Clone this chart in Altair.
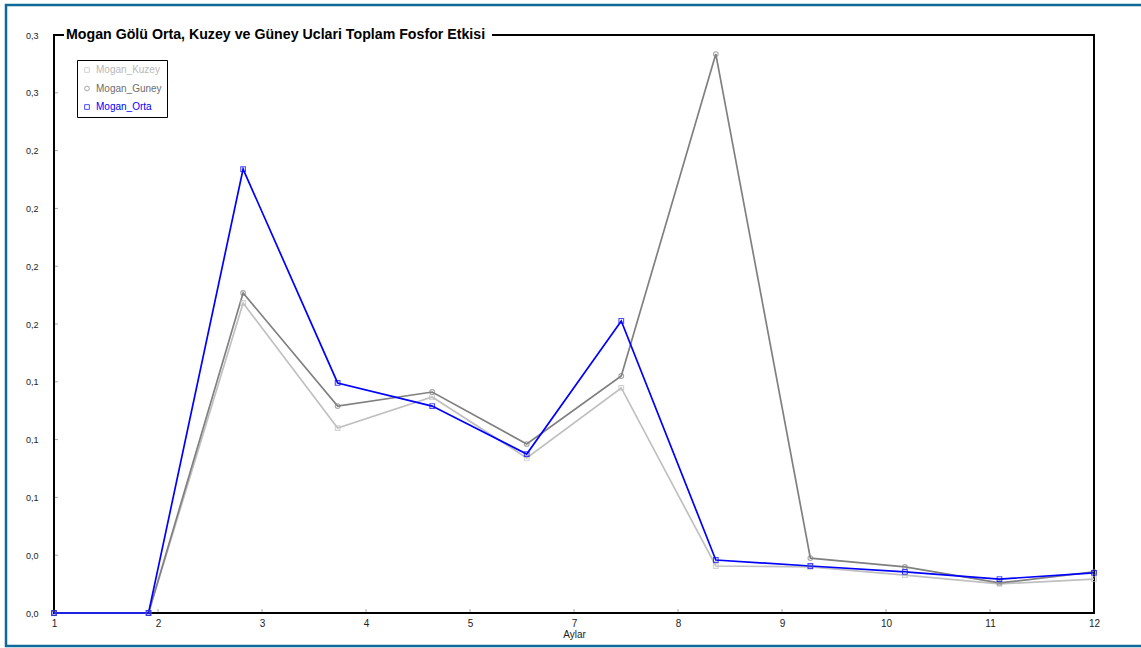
import altair as alt
import pandas as pd

# ---------------- data ----------------
MONTHS = [1, 2, 3, 4, 5, 6, 7, 8, 9, 10, 11, 12]
KUZEY = [0.0, 0.0, 0.1609, 0.0960, 0.1121, 0.0805, 0.1168, 0.0244, 0.0239, 0.0197, 0.0151, 0.0176]
GUNEY = [0.0, 0.0, 0.1661, 0.1074, 0.1147, 0.0877, 0.1230, 0.2901, 0.0285, 0.0239, 0.0156, 0.0213]
ORTA = [0.0, 0.0, 0.2304, 0.1194, 0.1074, 0.0825, 0.1516, 0.0275, 0.0244, 0.0213, 0.0176, 0.0208]
SERIES = ["Mogan_Kuzey", "Mogan_Guney", "Mogan_Orta"]
COLORS = ["#c0c0c0", "#808080", "#0000ff"]
LABEL_COLORS = ["#b8b8b8", "#6e6e6e", "#0000ff"]
SHAPES = ["square", "circle", "square"]

Y_TICKS = [0.0, 0.03, 0.06, 0.09, 0.12, 0.15, 0.18, 0.21, 0.24, 0.27, 0.30]
Y_LABELS = ["0,0", "0,0", "0,1", "0,1", "0,1", "0,2", "0,2", "0,2", "0,2", "0,3", "0,3"]
X_TICKS = [1, 2.1, 3.2, 4.3, 5.4, 6.5, 7.6, 8.7, 9.8, 10.9, 12]
X_LABELS = ["1", "2", "3", "4", "5", "7", "8", "9", "10", "11", "12"]

TITLE = "Mogan Gölü Orta, Kuzey ve Güney Uclari Toplam Fosfor Etkisi"
X_TITLE = "Aylar"

W, H = 1040, 578

rows = []
for name, vals in zip(SERIES, [KUZEY, GUNEY, ORTA]):
    for m, v in zip(MONTHS, vals):
        rows.append({"Ay": m, "Deger": v, "Seri": name})
df = pd.DataFrame(rows)

def js_arr(lst):
    return "[" + ",".join("'" + s + "'" for s in lst) + "]"

FONT = "Liberation Sans"

x_scale = alt.Scale(domain=[1, 12], nice=False, zero=False)
y_scale = alt.Scale(domain=[0, 0.30], nice=False, zero=True)

x_axis = alt.Axis(
    values=X_TICKS,
    labelExpr=js_arr(X_LABELS) + "[round((datum.value-1)/1.1)]",
    title=X_TITLE, titleFontSize=10, titleFontWeight="normal", titleColor="#222222",
    titlePadding=1, titleFont=FONT,
    labelFontSize=10, labelColor="#222222", labelFont=FONT, labelPadding=5,
    ticks=False, tickSize=0, domain=False, grid=False, labelFlush=False,
)
y_axis = alt.Axis(
    values=Y_TICKS,
    labelExpr=js_arr(Y_LABELS) + "[round(datum.value/0.03)]",
    title=None, labelFontSize=9, labelColor="#222222", labelFont=FONT,
    labelPadding=16, ticks=False, tickSize=0, domain=False, grid=False,
    labelFlush=False,
)

color_scale = alt.Scale(domain=SERIES, range=COLORS)
shape_scale = alt.Scale(domain=SERIES, range=SHAPES)

label_color_expr = (
    "datum.label == '" + SERIES[2] + "' ? '" + LABEL_COLORS[2] + "' : "
    "datum.label == '" + SERIES[1] + "' ? '" + LABEL_COLORS[1] + "' : '" + LABEL_COLORS[0] + "'"
)

legend = alt.Legend(
    title=None, orient="none", legendX=23, legendY=25,
    strokeColor="#000000", fillColor="#ffffff", padding=5,
    labelFontSize=10, labelFont=FONT, symbolSize=22, symbolStrokeWidth=1,
    rowPadding=8.5, labelColor={"expr": label_color_expr},
)

# frame
frame = alt.Chart(pd.DataFrame({"a": [0]})).mark_rect(
    fillOpacity=0, stroke="#000000", strokeWidth=2
).encode(x=alt.value(0), x2=alt.value(W), y=alt.value(0), y2=alt.value(H))

# outer blue border
outer = alt.Chart(pd.DataFrame({"a": [0]})).mark_rect(
    fillOpacity=0, stroke="#0f6a99", strokeWidth=2.5
).encode(x=alt.value(-48), x2=alt.value(W + 60), y=alt.value(-30), y2=alt.value(H + 33))

# inward ticks
yt = alt.Chart(pd.DataFrame({"v": Y_TICKS[1:-1]})).mark_rule(color="#aaaaaa", strokeWidth=1).encode(
    y=alt.Y("v:Q", scale=y_scale, axis=y_axis), x=alt.value(1), x2=alt.value(4)
)
xt = alt.Chart(pd.DataFrame({"v": X_TICKS[1:-1]})).mark_rule(color="#aaaaaa", strokeWidth=1).encode(
    x=alt.X("v:Q", scale=x_scale, axis=x_axis), y=alt.value(H - 1), y2=alt.value(H - 4)
)

# title with white gap in frame
gap = alt.Chart(pd.DataFrame({"a": [0]})).mark_rect(fill="#ffffff").encode(
    x=alt.value(10), x2=alt.value(438), y=alt.value(-4), y2=alt.value(4)
)
title = alt.Chart(pd.DataFrame({"t": [TITLE]})).mark_text(
    align="left", baseline="middle", fontSize=14.2, fontWeight="bold", font=FONT, color="#000000"
).encode(x=alt.value(12), y=alt.value(0), text="t:N")

base = alt.Chart(df)
lines = base.mark_line(strokeWidth=1.7).encode(
    x=alt.X("Ay:Q", scale=x_scale, axis=x_axis),
    y=alt.Y("Deger:Q", scale=y_scale, axis=y_axis),
    color=alt.Color("Seri:N", scale=color_scale, legend=legend, sort=SERIES),
    order=alt.Order("Ay:Q"),
)
points = base.mark_point(filled=False, size=22, strokeWidth=1.1).encode(
    x=alt.X("Ay:Q", scale=x_scale),
    y=alt.Y("Deger:Q", scale=y_scale),
    color=alt.Color("Seri:N", scale=color_scale, legend=legend, sort=SERIES),
    shape=alt.Shape("Seri:N", scale=shape_scale, legend=legend, sort=SERIES),
)

chart = alt.layer(outer, frame, yt, xt, lines, points, gap, title).properties(
    width=W, height=H,
    autosize=alt.AutoSizeParams(type="none"),
    padding={"left": 54, "top": 35, "right": 47, "bottom": 35},
    background="#ffffff",
).configure_view(stroke=None)

chart.save("out.html", embed_options={"renderer": "svg", "actions": False})
